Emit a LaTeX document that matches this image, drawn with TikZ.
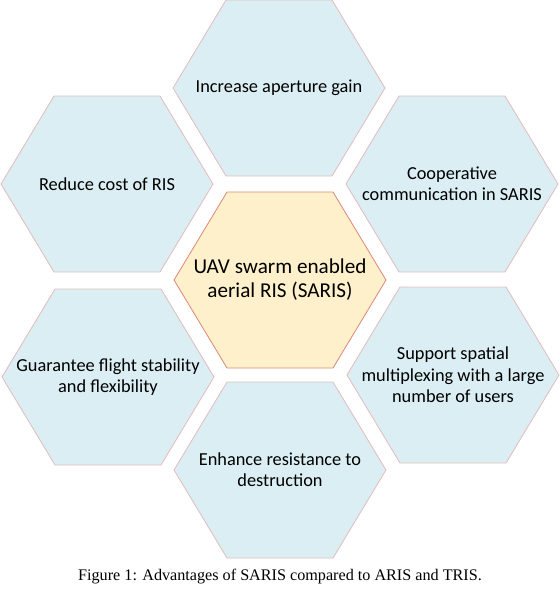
\documentclass[tikz,border=0pt]{standalone}
\usepackage{fontspec}
\setmainfont{Liberation Serif}
\newfontfamily\hexfont{Carlito}
\usepackage{xcolor}
\definecolor{cellblue}{HTML}{DAEEF3}
\definecolor{cellgold}{HTML}{FEF0CB}
\definecolor{rimpink}{HTML}{E3BDBD}
\definecolor{rimred}{HTML}{DC8A78}
\usepackage{tikz}
\usetikzlibrary{calc}
\tikzset{
  every picture/.style={line width=0.5pt},
  cell/.style={fill=cellblue, draw=rimpink},
  cell text/.style={font=\hexfont\fontsize{11}{12.8}\selectfont, align=center, inner sep=0pt},
  core/.style={fill=cellgold, draw=rimred},
  core text/.style={font=\hexfont\fontsize{12.7}{14.4}\selectfont, align=center, inner sep=0pt},
  caption/.style={font=\fontsize{9.7}{12}\selectfont},
}
% #1 look, #2 name, #3 centre, #4 text
\newcommand{\hexcell}[4][cell]{%
  \filldraw[#1] ($(#3)+(-106,0)$) -- ++(53,-88) -- ++(106,0) -- ++(53,88)
    -- ++(-53,88) -- ++(-106,0) -- cycle;
  \node[#1 text] (#2) at (#3) {#4};}

\begin{document}
\begin{tikzpicture}[x=0.6pt, y=-0.6pt]
  \useasboundingbox (0,0) rectangle (560,596);
  \hexcell[core]{saris}{280,280}{UAV swarm enabled\\aerial RIS (SARIS)}
  \hexcell{aperture}{279,88}{Increase aperture gain}
  \hexcell{cost}{107,184}{Reduce cost of RIS}
  \hexcell{coop}{452,184}{Cooperative\\communication in SARIS}
  \hexcell{flight}{108,377}{Guarantee flight stability\\and flexibility}
  \hexcell{multiplex}{453,375}{Support spatial\\multiplexing with a large\\number of users}
  \hexcell{resist}{280,470}{Enhance resistance to\\destruction}
  \node[caption] (cap) at (280,577) {Figure 1: Advantages of SARIS compared to ARIS and TRIS.};
\end{tikzpicture}
\end{document}
